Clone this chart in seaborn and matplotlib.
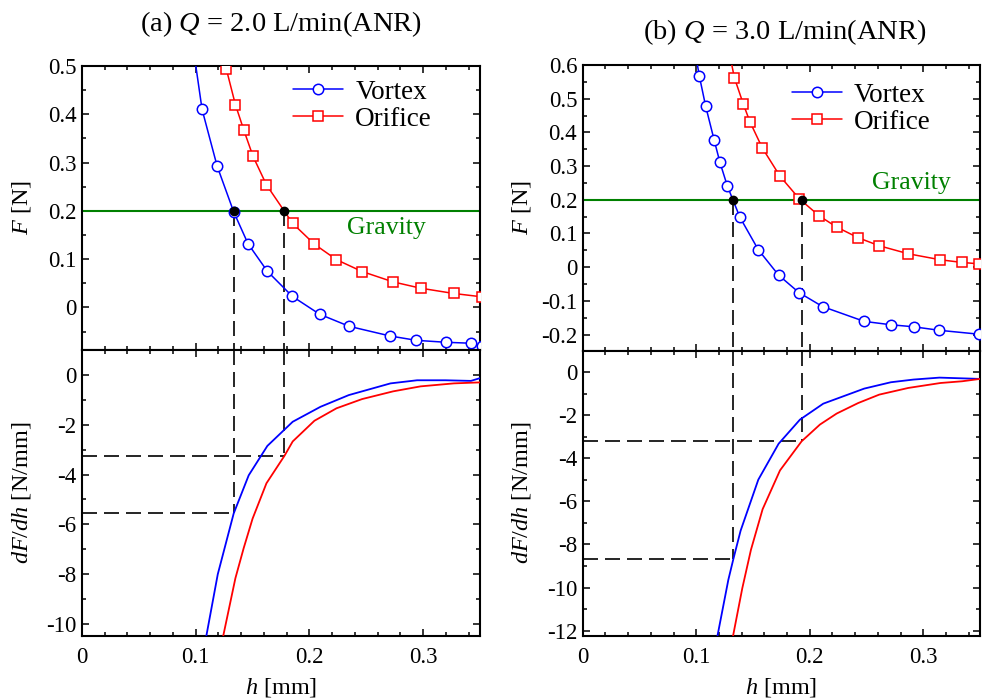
import matplotlib
matplotlib.use("Agg")
import matplotlib.pyplot as plt
from matplotlib.ticker import MultipleLocator, FuncFormatter
import seaborn as sns

# ---------------- data ----------------
# (a) Q = 2.0 L/min(ANR)
a_h_vortex = [0.094, 0.1056, 0.1188, 0.1334, 0.146, 0.163, 0.185, 0.209, 0.235, 0.271, 0.294, 0.320, 0.342, 0.352]
a_F_vortex = [0.600, 0.410, 0.293, 0.198, 0.132, 0.075, 0.023, -0.014, -0.039, -0.059, -0.068, -0.072, -0.074, -0.079]
a_h_orifice = [0.127, 0.1349, 0.1422, 0.1504, 0.1622, 0.1853, 0.2044, 0.2238, 0.2463, 0.2736, 0.2977, 0.327, 0.352]
a_F_orifice = [0.493, 0.420, 0.368, 0.313, 0.254, 0.174, 0.131, 0.099, 0.0745, 0.053, 0.040, 0.029, 0.022]
a_hd_vortex = [0.1056, 0.1194, 0.1334, 0.1466, 0.163, 0.1853, 0.2097, 0.2346, 0.2713, 0.2947, 0.3196, 0.342, 0.350]
a_dF_vortex = [-11.4, -8.0, -5.56, -4.03, -2.85, -1.88, -1.28, -0.81, -0.34, -0.215, -0.215, -0.24, -0.13]
a_hd_orifice = [0.119, 0.1349, 0.1422, 0.150, 0.1622, 0.178, 0.1853, 0.2044, 0.2238, 0.2463, 0.2736, 0.2977, 0.327, 0.350]
a_dF_orifice = [-11.6, -8.16, -6.95, -5.77, -4.35, -3.25, -2.67, -1.84, -1.34, -0.97, -0.66, -0.46, -0.34, -0.30]
a_cross_h = [0.1334, 0.178]
a_cross_slope = [-5.56, -3.25]

# (b) Q = 3.0 L/min(ANR)
b_h_vortex = [0.098, 0.1027, 0.1083, 0.1159, 0.1209, 0.1274, 0.1385, 0.1547, 0.1726, 0.1905, 0.2113, 0.248, 0.2715, 0.2915, 0.3143, 0.349]
b_F_vortex = [0.660, 0.568, 0.478, 0.376, 0.311, 0.241, 0.148, 0.0516, -0.0238, -0.0754, -0.117, -0.161, -0.171, -0.177, -0.1875, -0.199]
b_h_orifice = [0.129, 0.1336, 0.1415, 0.1473, 0.1582, 0.1738, 0.1908, 0.2084, 0.2237, 0.2427, 0.2612, 0.2868, 0.3152, 0.3343, 0.349]
b_F_orifice = [0.640, 0.5625, 0.484, 0.4315, 0.354, 0.270, 0.203, 0.152, 0.119, 0.0873, 0.0635, 0.0397, 0.0218, 0.0139, 0.0099]
b_hd_vortex = [0.113, 0.1283, 0.1327, 0.1391, 0.1547, 0.1726, 0.1914, 0.2119, 0.248, 0.2715, 0.2915, 0.3143, 0.350]
b_dF_vortex = [-13.8, -9.64, -8.68, -7.36, -4.99, -3.32, -2.20, -1.46, -0.76, -0.465, -0.34, -0.25, -0.31]
b_hd_orifice = [0.126, 0.1406, 0.1482, 0.1585, 0.1738, 0.1928, 0.209, 0.2237, 0.2427, 0.2612, 0.2868, 0.3152, 0.3343, 0.350]
b_dF_orifice = [-14.0, -10.03, -8.25, -6.36, -4.56, -3.21, -2.43, -1.92, -1.43, -1.04, -0.73, -0.50, -0.42, -0.31]
b_cross_h = [0.1327, 0.1928]
b_cross_slope = [-8.68, -3.21]

gravity = 0.2
titles = ["(a) $Q$ = 2.0 L/min(ANR)", "(b) $Q$ = 3.0 L/min(ANR)"]
series_labels = ["Vortex", "Orifice"]

# ---------------- style ----------------
sns.set_theme(style="ticks")
plt.rcParams.update({
    "font.family": ["Liberation Serif", "DejaVu Serif"],
    "mathtext.fontset": "custom",
    "mathtext.rm": "Liberation Serif",
    "mathtext.it": "Liberation Serif:italic",
    "axes.unicode_minus": False,
    "text.color": "black",
    "axes.labelcolor": "black",
    "axes.linewidth": 1.5,
    "axes.edgecolor": "black",
    "xtick.direction": "in", "ytick.direction": "in",
    "xtick.top": True, "ytick.right": True,
    "xtick.major.size": 5, "ytick.major.size": 5,
    "xtick.minor.size": 3, "ytick.minor.size": 3,
    "xtick.major.width": 1.1, "ytick.major.width": 1.1,
    "xtick.minor.width": 1.1, "ytick.minor.width": 1.1,
    "xtick.color": "black", "ytick.color": "black",
    "xtick.labelsize": 16.5, "ytick.labelsize": 16.5,
    "axes.labelsize": 17.5,
    "xtick.major.pad": 8, "ytick.major.pad": 4,
})

fig = plt.figure(figsize=(9.84, 6.99), dpi=100)

W, H = 984, 699
def box(l, t, r, b):
    return [l / W, 1 - b / H, (r - l) / W, (b - t) / H]

panels = [
    dict(top=box(82, 66, 480, 350), bot=box(82, 350, 480, 636),
         Fv=(a_h_vortex, a_F_vortex), Fo=(a_h_orifice, a_F_orifice),
         dv=(a_hd_vortex, a_dF_vortex), do=(a_hd_orifice, a_dF_orifice),
         ch=a_cross_h, cs=a_cross_slope,
         ylim_top=(-0.088, 0.5), ylim_bot=(-10.48, 1.0),
         grav_xy=(0.268, 0.165), leg=(0.53, 0.952), title_y=24, title_x=281,
         ylab_x=-0.123),
    dict(top=box(582.7, 65, 980, 350.7), bot=box(582.7, 350.7, 980, 636),
         Fv=(b_h_vortex, b_F_vortex), Fo=(b_h_orifice, b_F_orifice),
         dv=(b_hd_vortex, b_dF_vortex), do=(b_hd_orifice, b_dF_orifice),
         ch=b_cross_h, cs=b_cross_slope,
         ylim_top=(-0.248, 0.6), ylim_bot=(-12.25, 1.0),
         grav_xy=(0.2897, 0.251), leg=(0.526, 0.938), title_y=32, title_x=785,
         ylab_x=-0.125),
]

fmt_g = FuncFormatter(lambda v, p: f"{v:g}")
dash = dict(color="black", lw=1.2, dashes=(9, 4.2), zorder=1)

for i, p in enumerate(panels):
    ax_t = fig.add_axes(p["top"])
    ax_b = fig.add_axes(p["bot"])

    # force curves with the gravity level
    ax_t.axhline(gravity, color="#008000", lw=1.5, zorder=2)
    handles = []
    for (hx, fy), col, mk, lab in [(p["Fv"], "#0000ff", "o", series_labels[0]),
                                    (p["Fo"], "#ff0000", "s", series_labels[1])]:
        n0 = len(ax_t.lines)
        sns.lineplot(x=hx, y=fy, ax=ax_t, color=col, lw=1.1, sort=False,
                     marker=mk, markersize=7.5 if mk == "o" else 7.2,
                     markerfacecolor="white", markeredgecolor=col,
                     markeredgewidth=1.1, legend=False, zorder=3)
        handles.append((ax_t.lines[n0], lab))
    ax_t.plot(p["ch"], [gravity] * len(p["ch"]), "o", color="black", ms=6, zorder=5)
    for h in p["ch"]:
        ax_t.plot([h, h], [gravity, p["ylim_top"][0]], **dash)
    ax_t.text(*p["grav_xy"], "Gravity", color="#008000", fontsize=18.5,
              ha="center", va="center")
    ax_t.legend([h for h, _ in handles], [l for _, l in handles],
                loc="upper left", bbox_to_anchor=p["leg"], frameon=False,
                fontsize=19.5, handlelength=1.85, handletextpad=0.45,
                labelspacing=0.08, borderpad=0, borderaxespad=0)

    # slope curves
    sns.lineplot(x=p["dv"][0], y=p["dv"][1], ax=ax_b, color="#0000ff", lw=1.3,
                 sort=False, legend=False, zorder=3)
    sns.lineplot(x=p["do"][0], y=p["do"][1], ax=ax_b, color="#ff0000", lw=1.3,
                 sort=False, legend=False, zorder=3)
    for h, s in zip(p["ch"], p["cs"]):
        ax_b.plot([h, h], [p["ylim_bot"][1], s], **dash)
        ax_b.plot([0, h], [s, s], **dash)

    for ax in (ax_t, ax_b):
        ax.set_xlim(0, 0.35)
        ax.xaxis.set_major_locator(MultipleLocator(0.1))
        ax.xaxis.set_minor_locator(MultipleLocator(0.02))
        ax.tick_params(which="both", direction="in", top=True, right=True)
        ax.set_facecolor("white")
        for s in ax.spines.values():
            s.set_visible(True)
            s.set_linewidth(1.5)
            s.set_color("black")

    ax_t.set_ylim(*p["ylim_top"])
    ax_t.yaxis.set_major_locator(MultipleLocator(0.1))
    ax_t.yaxis.set_minor_locator(MultipleLocator(0.05))
    ax_t.yaxis.set_major_formatter(fmt_g)
    ax_t.tick_params(axis="x", labelbottom=False)
    ax_t.set_xlabel("")
    ax_t.set_ylabel("$F$ [N]")
    ax_t.yaxis.set_label_coords(p["ylab_x"], 0.5)

    ax_b.set_ylim(*p["ylim_bot"])
    ax_b.yaxis.set_major_locator(MultipleLocator(2))
    ax_b.yaxis.set_minor_locator(MultipleLocator(1))
    ax_b.yaxis.set_major_formatter(fmt_g)
    ax_b.xaxis.set_major_formatter(fmt_g)
    ax_b.set_xlabel("$h$ [mm]", labelpad=6)
    ax_b.set_ylabel("$dF/dh$ [N/mm]")
    ax_b.yaxis.set_label_coords(p["ylab_x"], 0.5)

    fig.text(p["title_x"] / W, 1 - p["title_y"] / H, titles[i], fontsize=20.5,
             color="black", ha="center", va="center")

fig.savefig("out.png", dpi=100, facecolor="white")
